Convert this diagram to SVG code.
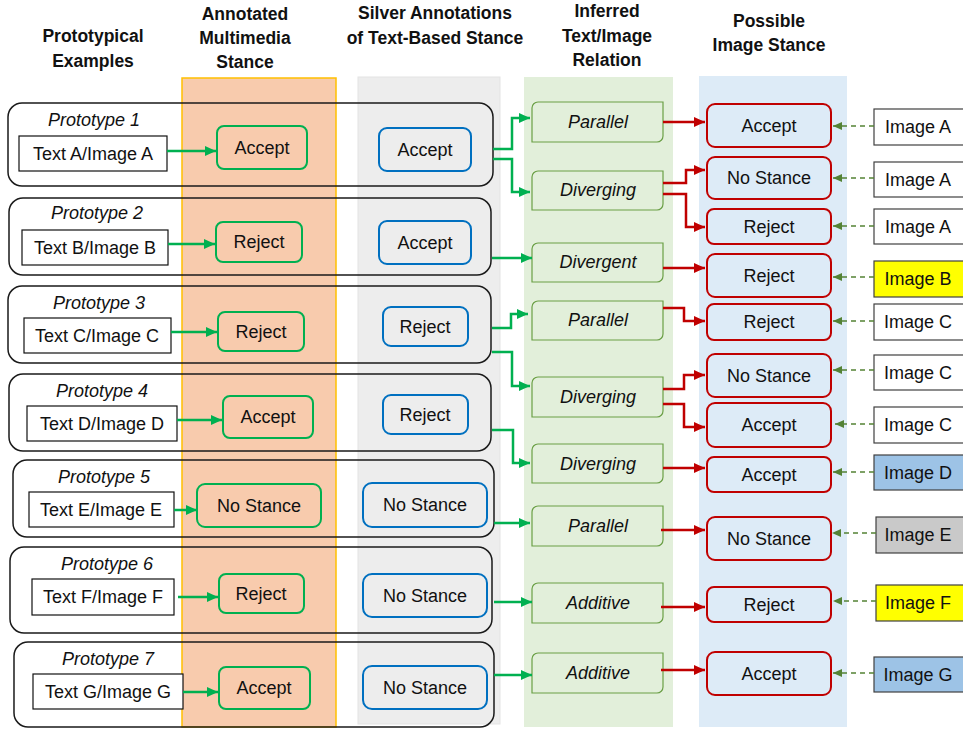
<svg xmlns="http://www.w3.org/2000/svg" width="963" height="729" viewBox="0 0 963 729">
<defs>
<marker id="ag" markerUnits="userSpaceOnUse" markerWidth="12" markerHeight="10" refX="11" refY="5" orient="auto"><path d="M0,0 L11,5 L0,10 Z" fill="#00B050"/></marker>
<marker id="ar" markerUnits="userSpaceOnUse" markerWidth="12" markerHeight="10" refX="11" refY="5" orient="auto"><path d="M0,0 L11,5 L0,10 Z" fill="#C00000"/></marker>
<marker id="ad" markerUnits="userSpaceOnUse" markerWidth="10" markerHeight="8" refX="9" refY="4" orient="auto"><path d="M0,0 L9,4 L0,8 Z" fill="#548235"/></marker>
</defs>
<style>
text{font-family:"Liberation Sans",Arial,sans-serif;font-size:18px;fill:#111;text-anchor:middle}
.h{font-weight:bold;font-size:17.5px}
.i{font-style:italic}
.proto{fill:none;stroke:#1a1a1a;stroke-width:1.5}
.tb{fill:#fff;stroke:#111;stroke-width:1.2}
.gb{fill:none;stroke:#00B050;stroke-width:2}
.bb{fill:none;stroke:#0070C0;stroke-width:2}
.rel{fill:#E2EFDA;stroke:#6A9F45;stroke-width:1.2}
.rb{fill:#DDEBF7;stroke:#C00000;stroke-width:2}
.ib{stroke:#404040;stroke-width:1.2}
.cg{fill:none;stroke:#00B050;stroke-width:2.5}
.cr{fill:none;stroke:#C00000;stroke-width:2.5}
.cd{fill:none;stroke:#548235;stroke-width:1.5;stroke-dasharray:5,4}
</style>
<rect width="963" height="729" fill="#fff"/>
<g id="columns">
<rect x="182" y="78" width="154" height="649" fill="#F8CBAD" stroke="#FFC000" stroke-width="1.5"/>
<rect x="358" y="77" width="142" height="647" fill="#EDEDED" stroke="#E3E3E3" stroke-width="1"/>
<rect x="524" y="77" width="149" height="650" fill="#E2EFDA"/>
<rect x="699" y="76" width="148" height="651" fill="#DDEBF7"/>
</g>
<g id="headers">
<text class="h" x="93" y="42">Prototypical</text>
<text class="h" x="93" y="67">Examples</text>
<text class="h" x="245" y="20">Annotated</text>
<text class="h" x="245" y="44">Multimedia</text>
<text class="h" x="245" y="68">Stance</text>
<text class="h" x="435" y="19">Silver Annotations</text>
<text class="h" x="435" y="44">of Text-Based Stance</text>
<text class="h" x="607" y="17">Inferred</text>
<text class="h" x="607" y="42">Text/Image</text>
<text class="h" x="607" y="66">Relation</text>
<text class="h" x="769" y="27">Possible</text>
<text class="h" x="769" y="51">Image Stance</text>
</g>
<g id="prototype1">
<rect class="proto" x="8" y="103" width="485" height="83" rx="14"/>
<text class="i" x="94" y="126">Prototype 1</text>
<rect class="tb" x="19" y="136" width="148" height="35"/><text x="93" y="160">Text A/Image A</text>
<rect class="gb" x="217" y="126" width="90" height="43" rx="7"/><text x="262" y="154">Accept</text>
<rect class="bb" x="379" y="128" width="92" height="43" rx="8"/><text x="425" y="156">Accept</text>
</g>
<g id="prototype2">
<rect class="proto" x="9" y="198" width="482" height="77" rx="14"/>
<text class="i" x="97" y="219">Prototype 2</text>
<rect class="tb" x="22" y="230" width="146" height="35"/><text x="95" y="254">Text B/Image B</text>
<rect class="gb" x="216" y="222" width="86" height="40" rx="7"/><text x="259" y="248">Reject</text>
<rect class="bb" x="379" y="221" width="92" height="43" rx="8"/><text x="425" y="249">Accept</text>
</g>
<g id="prototype3">
<rect class="proto" x="8" y="286" width="483" height="77" rx="14"/>
<text class="i" x="99" y="309">Prototype 3</text>
<rect class="tb" x="24" y="318" width="147" height="35"/><text x="97" y="342">Text C/Image C</text>
<rect class="gb" x="218" y="312" width="86" height="39" rx="7"/><text x="261" y="338">Reject</text>
<rect class="bb" x="383" y="307" width="85" height="39" rx="8"/><text x="425" y="333">Reject</text>
</g>
<g id="prototype4">
<rect class="proto" x="9" y="374" width="482" height="77" rx="14"/>
<text class="i" x="102" y="397">Prototype 4</text>
<rect class="tb" x="27" y="406" width="150" height="35"/><text x="102" y="430">Text D/Image D</text>
<rect class="gb" x="223" y="396" width="90" height="42" rx="7"/><text x="268" y="423">Accept</text>
<rect class="bb" x="383" y="395" width="85" height="39" rx="8"/><text x="425" y="421">Reject</text>
</g>
<g id="prototype5">
<rect class="proto" x="13" y="460" width="481" height="77" rx="14"/>
<text class="i" x="104" y="483">Prototype 5</text>
<rect class="tb" x="29" y="492" width="145" height="35"/><text x="101" y="516">Text E/Image E</text>
<rect class="gb" x="197" y="484" width="124" height="43" rx="8"/><text x="259" y="512">No Stance</text>
<rect class="bb" x="363" y="483" width="124" height="44" rx="9"/><text x="425" y="511">No Stance</text>
</g>
<g id="prototype6">
<rect class="proto" x="10" y="547" width="482" height="86" rx="14"/>
<text class="i" x="107" y="570">Prototype 6</text>
<rect class="tb" x="32" y="579" width="142" height="36"/><text x="103" y="603">Text F/Image F</text>
<rect class="gb" x="219" y="574" width="85" height="39" rx="7"/><text x="261" y="600">Reject</text>
<rect class="bb" x="363" y="574" width="124" height="43" rx="9"/><text x="425" y="602">No Stance</text>
</g>
<g id="prototype7">
<rect class="proto" x="14" y="642" width="480" height="85" rx="14"/>
<text class="i" x="108" y="665">Prototype 7</text>
<rect class="tb" x="33" y="674" width="150" height="35"/><text x="108" y="698">Text G/Image G</text>
<rect class="gb" x="219" y="667" width="91" height="42" rx="7"/><text x="264" y="694">Accept</text>
<rect class="bb" x="363" y="666" width="124" height="43" rx="9"/><text x="425" y="694">No Stance</text>
</g>
<g id="relations">
<g id="rel1"><path class="rel" d="M538,102 H663 V136 A6,6 0 0 1 657,142 H532 V108 A6,6 0 0 1 538,102 Z"/><text class="i" x="598" y="128">Parallel</text></g>
<g id="rel2"><path class="rel" d="M538,171 H663 V204 A6,6 0 0 1 657,210 H532 V177 A6,6 0 0 1 538,171 Z"/><text class="i" x="598" y="196">Diverging</text></g>
<g id="rel3"><path class="rel" d="M538,243 H663 V276 A6,6 0 0 1 657,282 H532 V249 A6,6 0 0 1 538,243 Z"/><text class="i" x="598" y="268">Divergent</text></g>
<g id="rel4"><path class="rel" d="M538,301 H663 V334 A6,6 0 0 1 657,340 H532 V307 A6,6 0 0 1 538,301 Z"/><text class="i" x="598" y="326">Parallel</text></g>
<g id="rel5"><path class="rel" d="M538,377 H663 V411 A6,6 0 0 1 657,417 H532 V383 A6,6 0 0 1 538,377 Z"/><text class="i" x="598" y="403">Diverging</text></g>
<g id="rel6"><path class="rel" d="M538,444 H663 V477 A6,6 0 0 1 657,483 H532 V450 A6,6 0 0 1 538,444 Z"/><text class="i" x="598" y="470">Diverging</text></g>
<g id="rel7"><path class="rel" d="M538,506 H663 V540 A6,6 0 0 1 657,546 H532 V512 A6,6 0 0 1 538,506 Z"/><text class="i" x="598" y="532">Parallel</text></g>
<g id="rel8"><path class="rel" d="M538,583 H663 V617 A6,6 0 0 1 657,623 H532 V589 A6,6 0 0 1 538,583 Z"/><text class="i" x="598" y="609">Additive</text></g>
<g id="rel9"><path class="rel" d="M538,653 H663 V687 A6,6 0 0 1 657,693 H532 V659 A6,6 0 0 1 538,653 Z"/><text class="i" x="598" y="679">Additive</text></g>
</g>
<g id="stances">
<g id="st1"><rect class="rb" x="707" y="104" width="124" height="43" rx="8"/><text x="769" y="132">Accept</text></g>
<g id="st2"><rect class="rb" x="707" y="157" width="124" height="42" rx="8"/><text x="769" y="184">No Stance</text></g>
<g id="st3"><rect class="rb" x="707" y="209" width="124" height="35" rx="7"/><text x="769" y="233">Reject</text></g>
<g id="st4"><rect class="rb" x="707" y="254" width="124" height="43" rx="8"/><text x="769" y="282">Reject</text></g>
<g id="st5"><rect class="rb" x="707" y="304" width="124" height="36" rx="7"/><text x="769" y="328">Reject</text></g>
<g id="st6"><rect class="rb" x="707" y="354" width="124" height="43" rx="8"/><text x="769" y="382">No Stance</text></g>
<g id="st7"><rect class="rb" x="707" y="403" width="124" height="44" rx="8"/><text x="769" y="431">Accept</text></g>
<g id="st8"><rect class="rb" x="707" y="457" width="124" height="35" rx="7"/><text x="769" y="481">Accept</text></g>
<g id="st9"><rect class="rb" x="707" y="517" width="124" height="43" rx="8"/><text x="769" y="545">No Stance</text></g>
<g id="st10"><rect class="rb" x="707" y="587" width="124" height="35" rx="7"/><text x="769" y="611">Reject</text></g>
<g id="st11"><rect class="rb" x="707" y="652" width="124" height="43" rx="8"/><text x="769" y="680">Accept</text></g>
</g>
<g id="images">
<g id="im1"><rect class="ib" x="874" y="109" width="100" height="36" fill="#fff"/><text x="918" y="133">Image A</text></g>
<g id="im2"><rect class="ib" x="874" y="162" width="100" height="35" fill="#fff"/><text x="918" y="186">Image A</text></g>
<g id="im3"><rect class="ib" x="874" y="209" width="100" height="35" fill="#fff"/><text x="918" y="233">Image A</text></g>
<g id="im4"><rect class="ib" x="874" y="261" width="100" height="36" fill="#FFFF00"/><text x="918" y="285">Image B</text></g>
<g id="im5"><rect class="ib" x="874" y="304" width="100" height="36" fill="#fff"/><text x="918" y="328">Image C</text></g>
<g id="im6"><rect class="ib" x="874" y="355" width="100" height="35" fill="#fff"/><text x="918" y="379">Image C</text></g>
<g id="im7"><rect class="ib" x="874" y="407" width="100" height="36" fill="#fff"/><text x="918" y="431">Image C</text></g>
<g id="im8"><rect class="ib" x="874" y="455" width="100" height="35" fill="#9DC3E6"/><text x="918" y="479">Image D</text></g>
<g id="im9"><rect class="ib" x="876" y="517" width="100" height="36" fill="#C9C9C9"/><text x="918" y="541">Image E</text></g>
<g id="im10"><rect class="ib" x="876" y="585" width="100" height="36" fill="#FFFF00"/><text x="918" y="609">Image F</text></g>
<g id="im11"><rect class="ib" x="874" y="657" width="100" height="35" fill="#9DC3E6"/><text x="918" y="681">Image G</text></g>
</g>
<g id="connectors">
<path class="cg" marker-end="url(#ag)" d="M167,151 H216"/>
<path class="cg" marker-end="url(#ag)" d="M168,244 H215"/>
<path class="cg" marker-end="url(#ag)" d="M171,332 H217"/>
<path class="cg" marker-end="url(#ag)" d="M177,420 H222"/>
<path class="cg" marker-end="url(#ag)" d="M174,510 H197"/>
<path class="cg" marker-end="url(#ag)" d="M178,597 H218"/>
<path class="cg" marker-end="url(#ag)" d="M183,692 H218"/>
<path class="cg" marker-end="url(#ag)" d="M493,149 H512 V118 H530"/>
<path class="cg" marker-end="url(#ag)" d="M493,159 H512 V192 H530"/>
<path class="cg" marker-end="url(#ag)" d="M492,258 H532"/>
<path class="cg" marker-end="url(#ag)" d="M492,328 H511 V314 H528"/>
<path class="cg" marker-end="url(#ag)" d="M492,352 H512 V386 H530"/>
<path class="cg" marker-end="url(#ag)" d="M492,430 H513 V463 H530"/>
<path class="cg" marker-end="url(#ag)" d="M494,523 H530"/>
<path class="cg" marker-end="url(#ag)" d="M494,602 H532"/>
<path class="cg" marker-end="url(#ag)" d="M494,675 H532"/>
<path class="cr" marker-end="url(#ar)" d="M663,122 H705"/>
<path class="cr" marker-end="url(#ar)" d="M663,183 H686 V170 H705"/>
<path class="cr" marker-end="url(#ar)" d="M663,194 H686 V227 H705"/>
<path class="cr" marker-end="url(#ar)" d="M663,268 H705"/>
<path class="cr" marker-end="url(#ar)" d="M663,308 H684 V321 H705"/>
<path class="cr" marker-end="url(#ar)" d="M663,389 H684 V375 H705"/>
<path class="cr" marker-end="url(#ar)" d="M663,404 H684 V427 H705"/>
<path class="cr" marker-end="url(#ar)" d="M663,468 H705"/>
<path class="cr" marker-end="url(#ar)" d="M661,530 H705"/>
<path class="cr" marker-end="url(#ar)" d="M661,607 H705"/>
<path class="cr" marker-end="url(#ar)" d="M661,670 H705"/>
<path class="cd" marker-end="url(#ad)" d="M874,126 H833"/>
<path class="cd" marker-end="url(#ad)" d="M874,178 H833"/>
<path class="cd" marker-end="url(#ad)" d="M874,226 H833"/>
<path class="cd" marker-end="url(#ad)" d="M874,277 H833"/>
<path class="cd" marker-end="url(#ad)" d="M874,321 H833"/>
<path class="cd" marker-end="url(#ad)" d="M874,370 H833"/>
<path class="cd" marker-end="url(#ad)" d="M874,424 H835"/>
<path class="cd" marker-end="url(#ad)" d="M874,472 H833"/>
<path class="cd" marker-end="url(#ad)" d="M876,533 H832"/>
<path class="cd" marker-end="url(#ad)" d="M876,601 H833"/>
<path class="cd" marker-end="url(#ad)" d="M874,673 H833"/>
</g>
</svg>
